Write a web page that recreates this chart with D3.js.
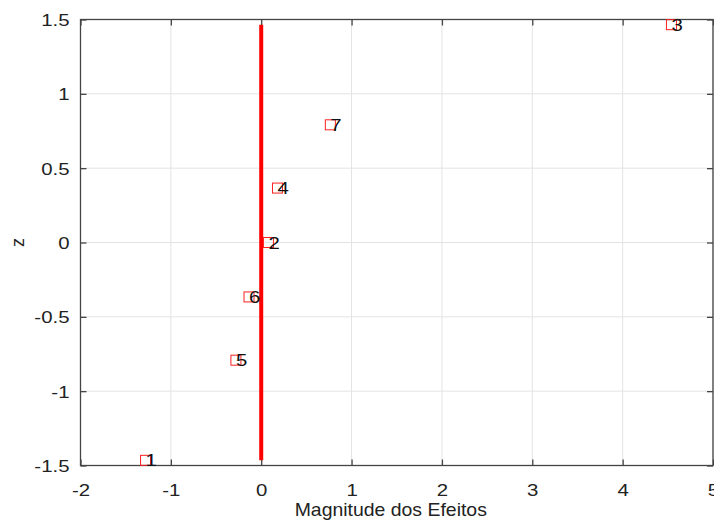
<!DOCTYPE html>
<html><head><meta charset="utf-8">
<script src="https://cdn.jsdelivr.net/npm/d3@7"></script>
<style>body{margin:0;background:#fff}svg{display:block}text{font-family:"Liberation Sans",Arial,sans-serif}</style>
</head><body><svg id="c" width="714" height="525"></svg>
<script>
const labels = ["1","2","3","4","5","6","7"];
const effects = [-1.28, 0.08, 4.54, 0.18, -0.28, -0.135, 0.765];
const zvals = [-1.4652, 0, 1.4652, 0.3661, -0.7916, -0.3661, 0.7916];
const refLineX = [0, 0];
const refLineZ = [-1.4652, 1.4652];
const xTicks = [-2,-1,0,1,2,3,4,5];
const yTicks = [-1.5,-1,-0.5,0,0.5,1,1.5];
const xLabel = "Magnitude dos Efeitos";
const yLabel = "z";

const svg = d3.select("#c");
const L=80.5, R=713, T=19.5, B=465.5;
const x = d3.scaleLinear().domain([-2,5]).range([L,R]);
const y = d3.scaleLinear().domain([-1.5,1.5]).range([B,T]);
const SX = 1.2;
const fmt = d => String(d);

// grid
svg.append("g").selectAll("line").data(xTicks).join("line")
  .attr("x1",d=>x(d)).attr("x2",d=>x(d)).attr("y1",T).attr("y2",B)
  .attr("stroke","#e3e3e3").attr("stroke-width",1);
svg.append("g").selectAll("line").data(yTicks).join("line")
  .attr("y1",d=>y(d)).attr("y2",d=>y(d)).attr("x1",L).attr("x2",R)
  .attr("stroke","#e3e3e3").attr("stroke-width",1);

// axes with inward ticks
const styleAxis = g => { g.select(".domain").remove(); g.selectAll(".tick line").attr("stroke","#444").attr("stroke-width",1.3); };
svg.append("g").attr("transform",`translate(0,${B})`)
  .call(d3.axisBottom(x).tickValues(xTicks).tickSizeInner(-6).tickSizeOuter(0).tickPadding(0).tickFormat(fmt))
  .call(styleAxis)
  .call(g=>g.selectAll(".tick text").attr("y",0).attr("dy",0).attr("transform",`translate(0,30) scale(${SX},1)`)
    .attr("font-size",17).attr("fill","#222").attr("font-family","Liberation Sans, Arial, sans-serif"));
svg.append("g").attr("transform",`translate(0,${T})`)
  .call(d3.axisTop(x).tickValues(xTicks).tickSizeInner(-6).tickSizeOuter(0).tickFormat(""))
  .call(styleAxis);
svg.append("g").attr("transform",`translate(${L},0)`)
  .call(d3.axisLeft(y).tickValues(yTicks).tickSizeInner(-6).tickSizeOuter(0).tickPadding(0).tickFormat(fmt))
  .call(styleAxis)
  .call(g=>g.selectAll(".tick text").attr("x",0).attr("dy",0).attr("transform",`translate(-11,6) scale(${SX},1)`)
    .attr("font-size",17).attr("fill","#222").attr("font-family","Liberation Sans, Arial, sans-serif"));
svg.append("g").attr("transform",`translate(${R},0)`)
  .call(d3.axisRight(y).tickValues(yTicks).tickSizeInner(-6).tickSizeOuter(0).tickFormat(""))
  .call(styleAxis);

// box
svg.append("rect").attr("x",L).attr("y",T).attr("width",R-L).attr("height",B-T)
  .attr("fill","none").attr("stroke","#444").attr("stroke-width",1.3);

// reference line
svg.append("line").attr("x1",x(refLineX[0])).attr("x2",x(refLineX[1]))
  .attr("y1",y(refLineZ[0])).attr("y2",y(refLineZ[1]))
  .attr("stroke","#ff0000").attr("stroke-width",4);

// markers
const pts = labels.map((l,i)=>({l, e:effects[i], z:zvals[i]}));
svg.append("g").selectAll("rect").data(pts).join("rect")
  .attr("x",d=>x(d.e)-5).attr("y",d=>y(d.z)-5).attr("width",10).attr("height",10)
  .attr("fill","none").attr("stroke","#ff2020").attr("stroke-width",1);
svg.append("g").selectAll("text").data(pts).join("text")
  .attr("transform",d=>`translate(${x(d.e)},${y(d.z)+6}) scale(${SX},1)`)
  .attr("font-size",17).attr("fill","#111").text(d=>d.l);

// axis labels
svg.append("text").attr("transform",`translate(${(L+R)/2 - 6},${516}) scale(1.08,1)`)
  .attr("text-anchor","middle").attr("font-size",18).attr("fill","#222").text(xLabel);
svg.append("text").attr("transform",`translate(${24},${(T+B)/2}) rotate(-90)`)
  .attr("text-anchor","middle").attr("font-size",18).attr("fill","#222").text(yLabel);
</script></body></html>
